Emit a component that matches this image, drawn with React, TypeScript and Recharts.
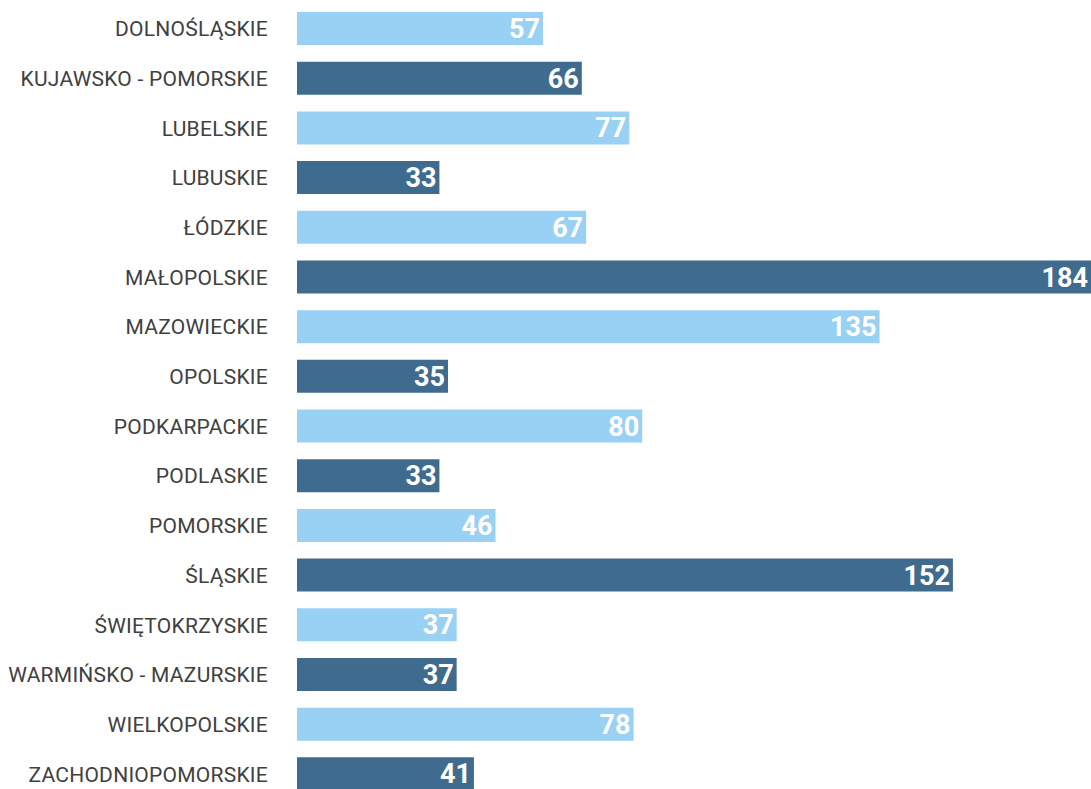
import { BarChart, Bar, XAxis, YAxis, Cell, LabelList } from "recharts"

const regions = [
  "DOLNOŚLĄSKIE",
  "KUJAWSKO - POMORSKIE",
  "LUBELSKIE",
  "LUBUSKIE",
  "ŁÓDZKIE",
  "MAŁOPOLSKIE",
  "MAZOWIECKIE",
  "OPOLSKIE",
  "PODKARPACKIE",
  "PODLASKIE",
  "POMORSKIE",
  "ŚLĄSKIE",
  "ŚWIĘTOKRZYSKIE",
  "WARMIŃSKO - MAZURSKIE",
  "WIELKOPOLSKIE",
  "ZACHODNIOPOMORSKIE",
]

const counts = [57, 66, 77, 33, 67, 184, 135, 35, 80, 33, 46, 152, 37, 37, 78, 41]

const data = regions.map((name, i) => ({ name, value: counts[i] }))

const LIGHT = "#99d1f4"
const DARK = "#3f6c8e"

export default function App() {
  return (
    <div style={{ position: "absolute", left: 0, top: 0 }}>
      <BarChart
        width={1091}
        height={799}
        data={data}
        layout="vertical"
        margin={{ top: 4, right: 0, bottom: 0, left: 0 }}
        barSize={33}
      >
        <XAxis type="number" domain={[0, 184]} hide />
        <YAxis
          type="category"
          dataKey="name"
          width={297}
          tickLine={false}
          axisLine={false}
          tickSize={0}
          tickMargin={29}
          interval={0}
          tick={{
            fill: "#404040",
            fontSize: 21,
            fontFamily: "Roboto",
            letterSpacing: 0.25,
          }}
        />
        <Bar dataKey="value" isAnimationActive={false}>
          {data.map((d, i) => (
            <Cell key={d.name} fill={i % 2 === 0 ? LIGHT : DARK} />
          ))}
          <LabelList
            dataKey="value"
            position="insideRight"
            offset={3}
            fill="#ffffff"
            fontSize={27}
            fontWeight="bold"
            fontFamily="Roboto"
          />
        </Bar>
      </BarChart>
    </div>
  )
}
